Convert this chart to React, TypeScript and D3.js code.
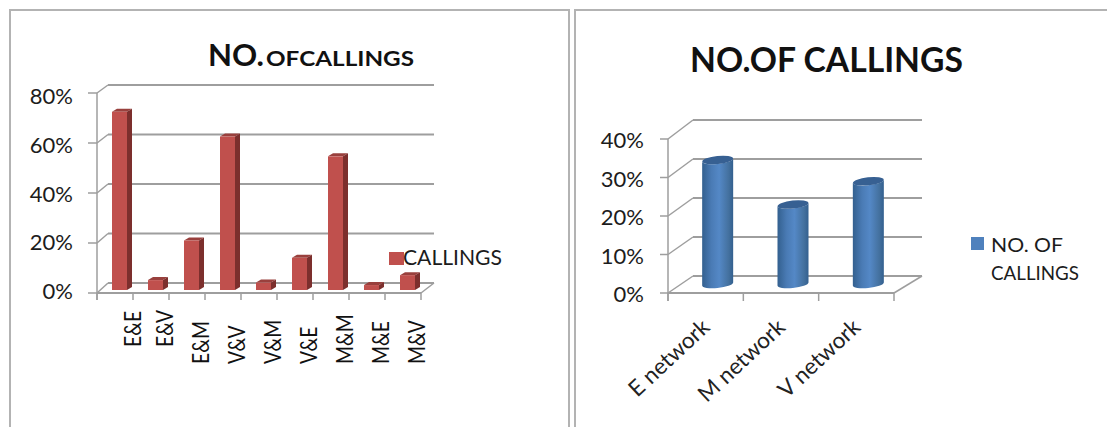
import React from "react";
import * as d3 from "d3";

// Pair-wise calling shares, left panel
const pairCategories = ["E&E", "E&V", "E&M", "V&V", "V&M", "V&E", "M&M", "M&E", "M&V"];
const pairValues = [72, 4, 20, 62, 3, 13, 54, 2, 6];
const pairTicks = [0, 20, 40, 60, 80];

// Per-network calling shares, right panel
const networkCategories = ["E network", "M network", "V network"];
const networkValues = [32, 20.5, 26.5];
const networkTicks = [0, 10, 20, 30, 40];

const FONT = "Lato, 'Open Sans', sans-serif";
const TEXT = "#1c1c1c";
const GRID = "#9e9e9e";
const FRAME = "#b3b3b3";

function LeftChart() {
  const yFront = d3.scaleLinear().domain([0, 80]).range([293, 93]);
  const yBack = d3.scaleLinear().domain([0, 80]).range([283, 85]);
  const yBar = d3.scaleLinear().domain([0, 80]).range([290, 92]);
  const yLabel = d3.scaleLinear().domain([0, 80]).range([291, 96]);
  const x = d3
    .scaleBand<string>()
    .domain(pairCategories)
    .range([97, 421])
    .paddingInner(21 / 36)
    .paddingOuter(21 / 72);
  const edges = d3.range(pairCategories.length + 1).map((i) => 97 + i * x.step());
  const dx = 5;
  const dy = 3;
  return (
    <g>
      <path d="M10,427V10H569V427" fill="none" stroke={FRAME} strokeWidth={2} />
      <text x={208} y={66} fontFamily={FONT} fontWeight={700} fontSize={30} fill="#111" textLength={56} lengthAdjust="spacingAndGlyphs">
        NO.
      </text>
      <text x={266} y={66} fontFamily={FONT} fontWeight={700} fontSize={21} fill="#111" textLength={148} lengthAdjust="spacingAndGlyphs">
        OFCALLINGS
      </text>
      {pairTicks.map((t) => (
        <g key={t}>
          <line x1={108} x2={434} y1={yBack(t)} y2={yBack(t)} stroke={GRID} strokeWidth={2} />
          <line x1={88} x2={97} y1={yFront(t)} y2={yFront(t)} stroke={GRID} strokeWidth={1.5} />
          <line x1={97} x2={108} y1={yFront(t)} y2={yBack(t)} stroke={GRID} strokeWidth={1.5} />
          <text x={73} y={yLabel(t) + 8} textAnchor="end" fontFamily={FONT} fontSize={22} fill={TEXT}>
            {t}%
          </text>
        </g>
      ))}
      <line x1={97} x2={97} y1={yFront(80)} y2={300} stroke={GRID} strokeWidth={1.5} />
      <line x1={97} x2={421} y1={yFront(0)} y2={yFront(0)} stroke={GRID} strokeWidth={2} />
      <line x1={421} x2={434} y1={yFront(0)} y2={yBack(0)} stroke={GRID} strokeWidth={1.5} />
      {edges.map((e) => (
        <line key={e} x1={e} x2={e} y1={293} y2={300} stroke={GRID} strokeWidth={1.5} />
      ))}
      {pairCategories.map((c, i) => {
        const left = (x(c) as number) + 4.5;
        const right = left + x.bandwidth();
        const top = yBar(pairValues[i]);
        const base = yBar(0);
        return (
          <g key={c}>
            <path d={`M${left},${top}L${left + dx},${top - dy}H${right + dx}L${right},${top}Z`} fill="#99403d" />
            <path d={`M${right},${top}L${right + dx},${top - dy}V${base - dy}L${right},${base}Z`} fill="#7c2f2d" />
            <rect x={left} y={top} width={x.bandwidth()} height={base - top} fill="#c0504d" />
            <text
              transform={`translate(${left + (i === 0 ? 29 : 24.5)},${i < 2 ? 347 : 364}) rotate(-90) scale(0.84,1)`}
              fontFamily={FONT}
              fontSize={23}
              fill="#111"
            >
              {c}
            </text>
          </g>
        );
      })}
      <rect x={389} y={252} width={15} height={13} fill="#c0504d" />
      <text x={403} y={265} fontFamily={FONT} fontSize={21} fill={TEXT} textLength={99} lengthAdjust="spacingAndGlyphs">
        CALLINGS
      </text>
    </g>
  );
}

function RightChart() {
  const yFront = d3.scaleLinear().domain([0, 40]).range([293, 139]);
  const yBack = d3.scaleLinear().domain([0, 40]).range([276, 120]);
  const yCyl = d3.scaleLinear().domain([0, 40]).range([284, 129]);
  const yLabel = d3.scaleLinear().domain([0, 40]).range([294, 140]);
  const x = d3
    .scaleBand<string>()
    .domain(networkCategories)
    .range([668, 894])
    .paddingInner(0.59)
    .paddingOuter(0.295);
  const edges = d3.range(networkCategories.length + 1).map((i) => 668 + i * x.step());
  const rx = 15.5;
  const ry = 4;
  const tilt = 3;
  return (
    <g>
      <path d="M575,427V10H1107" fill="none" stroke={FRAME} strokeWidth={2} />
      <text x={690} y={72} fontFamily={FONT} fontWeight={700} fontSize={34} fill="#111" textLength={273} lengthAdjust="spacingAndGlyphs">
        NO.OF CALLINGS
      </text>
      {networkTicks.map((t) => (
        <g key={t}>
          <line x1={693} x2={922} y1={yBack(t)} y2={yBack(t)} stroke={GRID} strokeWidth={2} />
          <line x1={660} x2={668} y1={yFront(t)} y2={yFront(t)} stroke={GRID} strokeWidth={1.5} />
          <line x1={668} x2={693} y1={yFront(t)} y2={yBack(t)} stroke={GRID} strokeWidth={1.5} />
          <text x={644} y={yLabel(t) + 8} textAnchor="end" fontFamily={FONT} fontSize={22} fill={TEXT}>
            {t}%
          </text>
        </g>
      ))}
      <line x1={668} x2={668} y1={yFront(40)} y2={301} stroke={GRID} strokeWidth={1.5} />
      <line x1={668} x2={894} y1={293} y2={293} stroke={GRID} strokeWidth={2} />
      <line x1={894} x2={922} y1={293} y2={276} stroke={GRID} strokeWidth={1.5} />
      {edges.map((e) => (
        <line key={e} x1={e} x2={e} y1={293} y2={301} stroke={GRID} strokeWidth={1.5} />
      ))}
      {networkCategories.map((c, i) => {
        const cx = (x(c) as number) + x.bandwidth() / 2 + 12;
        const l = cx - rx;
        const r = cx + rx;
        const top = yCyl(networkValues[i]);
        const base = yCyl(0);
        const body =
          `M${l},${top + tilt / 2}L${l},${base + tilt / 2}` +
          `A${rx},${ry} -6 0 0 ${r},${base - tilt / 2}L${r},${top - tilt / 2}` +
          `A${rx},${ry} -6 0 1 ${l},${top + tilt / 2}Z`;
        return (
          <g key={c}>
            <path d={body} fill="url(#cylinderFill)" />
            <ellipse cx={cx} cy={top} rx={rx} ry={ry} transform={`rotate(-6 ${cx} ${top})`} fill="#376092" />
            <text
              transform={`translate(${cx - 6.5},${329}) rotate(-43)`}
              textAnchor="end"
              fontFamily={FONT}
              fontSize={22.5}
              fill="#222"
            >
              {c}
            </text>
          </g>
        );
      })}
      <rect x={971} y={237} width={13} height={13} fill="#4f81bd" />
      <text x={991} y={252} fontFamily={FONT} fontSize={20} fill={TEXT} textLength={72} lengthAdjust="spacingAndGlyphs">
        NO. OF
      </text>
      <text x={991} y={280} fontFamily={FONT} fontSize={20} fill={TEXT} textLength={88} lengthAdjust="spacingAndGlyphs">
        CALLINGS
      </text>
    </g>
  );
}

export default function App() {
  return (
    <svg
      width={1107}
      height={427}
      viewBox="0 0 1107 427"
      style={{ position: "absolute", left: 0, top: 0, display: "block", background: "#fff" }}
    >
      <defs>
        <linearGradient id="cylinderFill" x1="0" x2="1" y1="0" y2="0">
          <stop offset="0" stopColor="#33608f" />
          <stop offset="0.3" stopColor="#4a7bb5" />
          <stop offset="0.55" stopColor="#5488c6" />
          <stop offset="0.85" stopColor="#44719f" />
          <stop offset="1" stopColor="#33608f" />
        </linearGradient>
      </defs>
      <LeftChart />
      <RightChart />
    </svg>
  );
}
